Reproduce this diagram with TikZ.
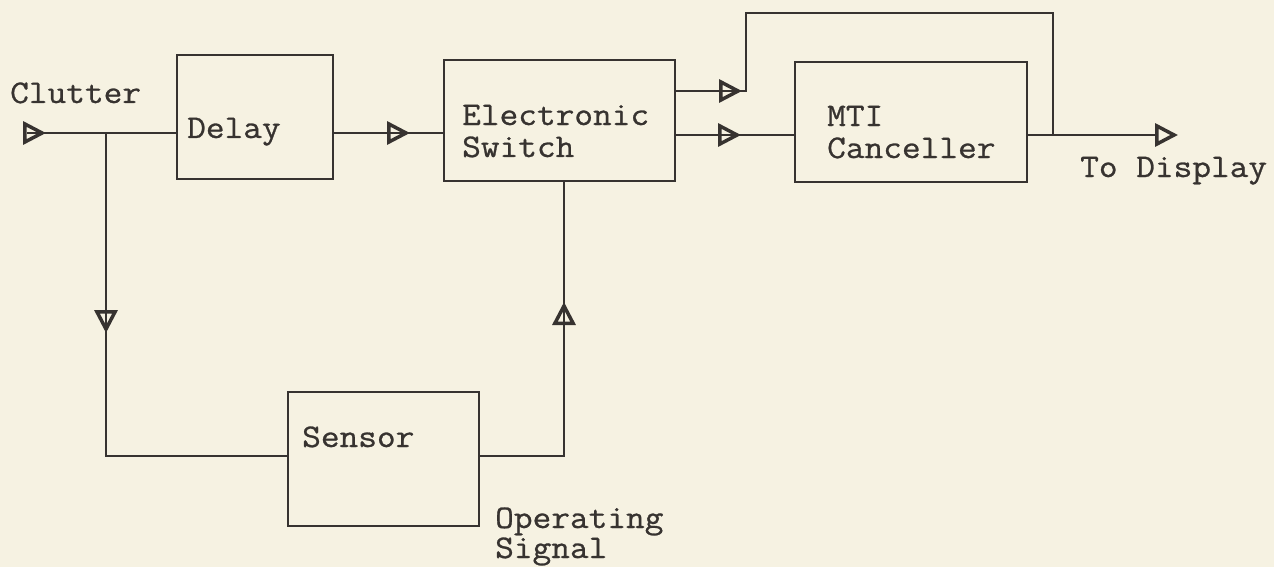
\documentclass[tikz,border=0pt]{standalone}
\usepackage{fontspec}
\setmainfont[FakeStretch=1.1,FakeBold=0.8]{Latin Modern Mono}
\usetikzlibrary{arrows.meta,decorations.markings}
\definecolor{paper}{RGB}{246,242,226}
\definecolor{ink}{RGB}{55,51,48}
\tikzset{
  >={Triangle[open,length=23pt,width=23pt,line width=3.5pt]},
  box/.style={draw=ink, line width=2pt, rectangle, inner sep=0pt},
  lbl/.style={text=ink, font=\fontsize{33}{32}\selectfont, inner sep=0pt, align=left},
  lbltwo/.style={text=ink, font=\fontsize{33}{30}\selectfont, inner sep=0pt, align=left},
  wire/.style={draw=ink, line width=2pt},
  midarrow/.style={postaction={decorate},
    decoration={markings, mark=at position #1 with {\arrow[ink]{>}}}}
}
\begin{document}
\begin{tikzpicture}[x=1pt,y=-1pt]
\fill[paper] (0,0) rectangle (1274,567);
\useasboundingbox (0,0) rectangle (1274,567);

% boxes
\node[box, minimum width=156pt, minimum height=124pt] (delay)  at (255,117) {};
\node[box, minimum width=231pt, minimum height=121pt] (switch) at (559.5,120.5) {};
\node[box, minimum width=232pt, minimum height=120pt] (mti)    at (911,122) {};
\node[box, minimum width=191pt, minimum height=134pt] (sensor) at (383.5,459) {};

% box texts (base anchor = baseline of the last line)
\node[lbl, anchor=base west] (delaytxt)  at (187,138) {Delay};
\node[lbl, anchor=base west] (switchtxt) at (462,157) {Electronic\\Switch};
\node[lbl, anchor=base west] (mtitxt)    at (827,158) {MTI\\Canceller};
\node[lbl, anchor=base west] (sensortxt) at (302,447) {Sensor};

% free labels
\node[lbl, anchor=base west] (clutter) at (10,103) {Clutter};
\node[lbl, anchor=base west] (display) at (1080,177) {To Display};
\node[lbltwo, anchor=base west] (opsig) at (495,558) {Operating\\Signal};

% coordinates
\coordinate (cin)  at (27,133);
\coordinate (br)   at (106,133);
\coordinate (join) at (1053,135);
\coordinate (out)  at (1178,135);

% connectors
\draw[wire, midarrow=19pt] (cin) -- (cin -| delay.west);
\draw[wire, midarrow=76pt] (cin -| delay.east) -- (cin -| switch.west);
\draw[wire, midarrow=200pt] (br) |- ([yshift=3pt]sensor.west);
\draw[wire, midarrow=238pt] ([yshift=3pt]sensor.east) -| ([xshift=4.5pt]switch.south);
\draw[wire, midarrow=66pt] ([yshift=29.5pt]switch.east) -- ++(70,0) -- ++(0,-78) -| (join);
\draw[wire, midarrow=65pt] (switch.east |- join) -- (mti.west |- join);
\draw[wire, ->] (mti.east |- join) -- (out);
\end{tikzpicture}
\end{document}
